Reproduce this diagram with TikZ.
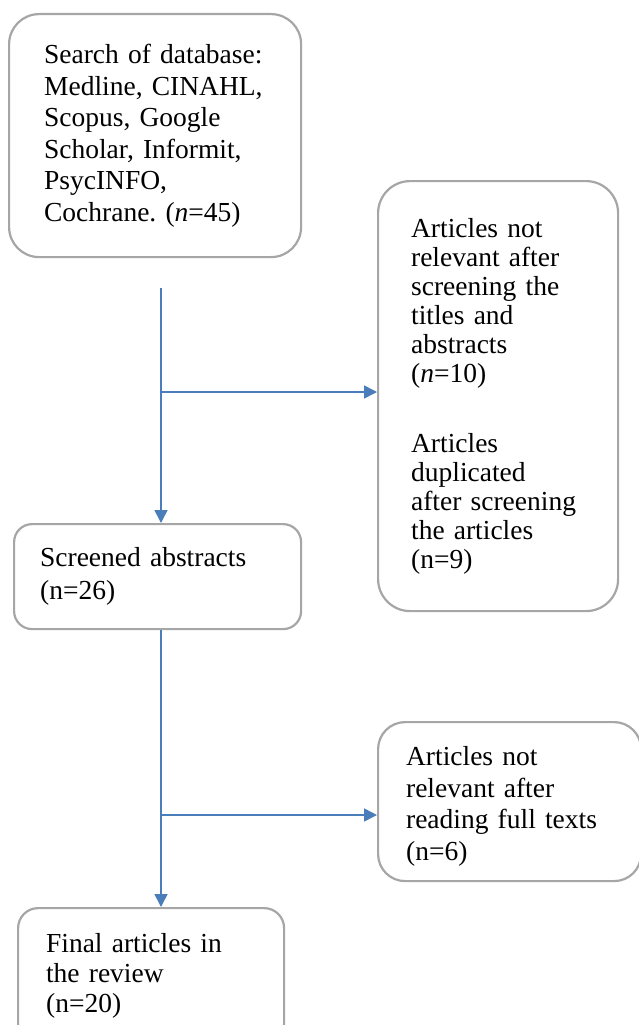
\documentclass[tikz,border=0pt]{standalone}
\usepackage{fontspec}
\setmainfont{Liberation Serif}
\usetikzlibrary{arrows.meta, positioning}
\definecolor{linkblue}{RGB}{74,126,187}
\definecolor{boxgray}{RGB}{166,166,166}
\frenchspacing

\begin{document}
\begin{tikzpicture}[
    x=1pt, y=-1pt,
    every node/.style={font=\fontsize{27.5}{27}\selectfont},
    leading/.style={font=\fontsize{27.5}{#1}\selectfont},
    box/.style={rectangle, draw=boxgray, line width=2.2pt, rounded corners=#1, anchor=north west, align=left, inner ysep=0pt},
    box/.default=25pt,
    arrow/.style={-{Triangle[length=13pt, width=13pt]}, draw=linkblue, line width=1.5pt}
  ]

  \useasboundingbox (0,0) rectangle (639,1025);

  \node[box=30pt, leading=31.5pt, text width=222pt, inner xsep=35pt, minimum height=243pt] (search) at (8,13) {Search of database:\\
  Medline, CINAHL,\\ Scopus, Google\\ Scholar, Informit,\\ PsycINFO,\\ Cochrane. (\textit{n}=45)};

  \node[box=32pt, leading=29pt, text width=174pt, inner xsep=33pt, minimum height=430pt] (excluded) at (377,180) {Articles not\\
  relevant after\\ screening the\\ titles and\\ abstracts\\ (\textit{n}=10)\\[41pt]
  Articles\\ duplicated\\ after screening\\ the articles\\ (n=9)};

  \node[box=18pt, leading=33pt, text width=235pt, inner xsep=26pt, minimum height=105pt] (screened) at (13,523) {Screened abstracts\\
  (n=26)};

  \node[box=27pt, leading=31.5pt, text width=207pt, inner xsep=28pt, minimum height=159pt] (fulltext) at (377,721) {\rule{0pt}{29pt}Articles not\\
  relevant after\\ reading full texts\\ (n=6)};

  \node[box=20pt, leading=30pt, text width=210pt, inner xsep=28pt, minimum height=136pt] (final) at (17,907) {Final articles in\\
  the review\\ (n=20)};

  \coordinate (start) at (161,288);
  \coordinate (split1) at (161,392);
  \coordinate (split2) at (161,815);

  \draw[arrow] (start) -- (start |- screened.north);
  \draw[arrow] (split1) -- (split1 -| excluded.west);
  \draw[arrow] (screened.south -| start) -- (start |- final.north);
  \draw[arrow] (split2) -- (split2 -| fulltext.west);

\end{tikzpicture}
\end{document}
